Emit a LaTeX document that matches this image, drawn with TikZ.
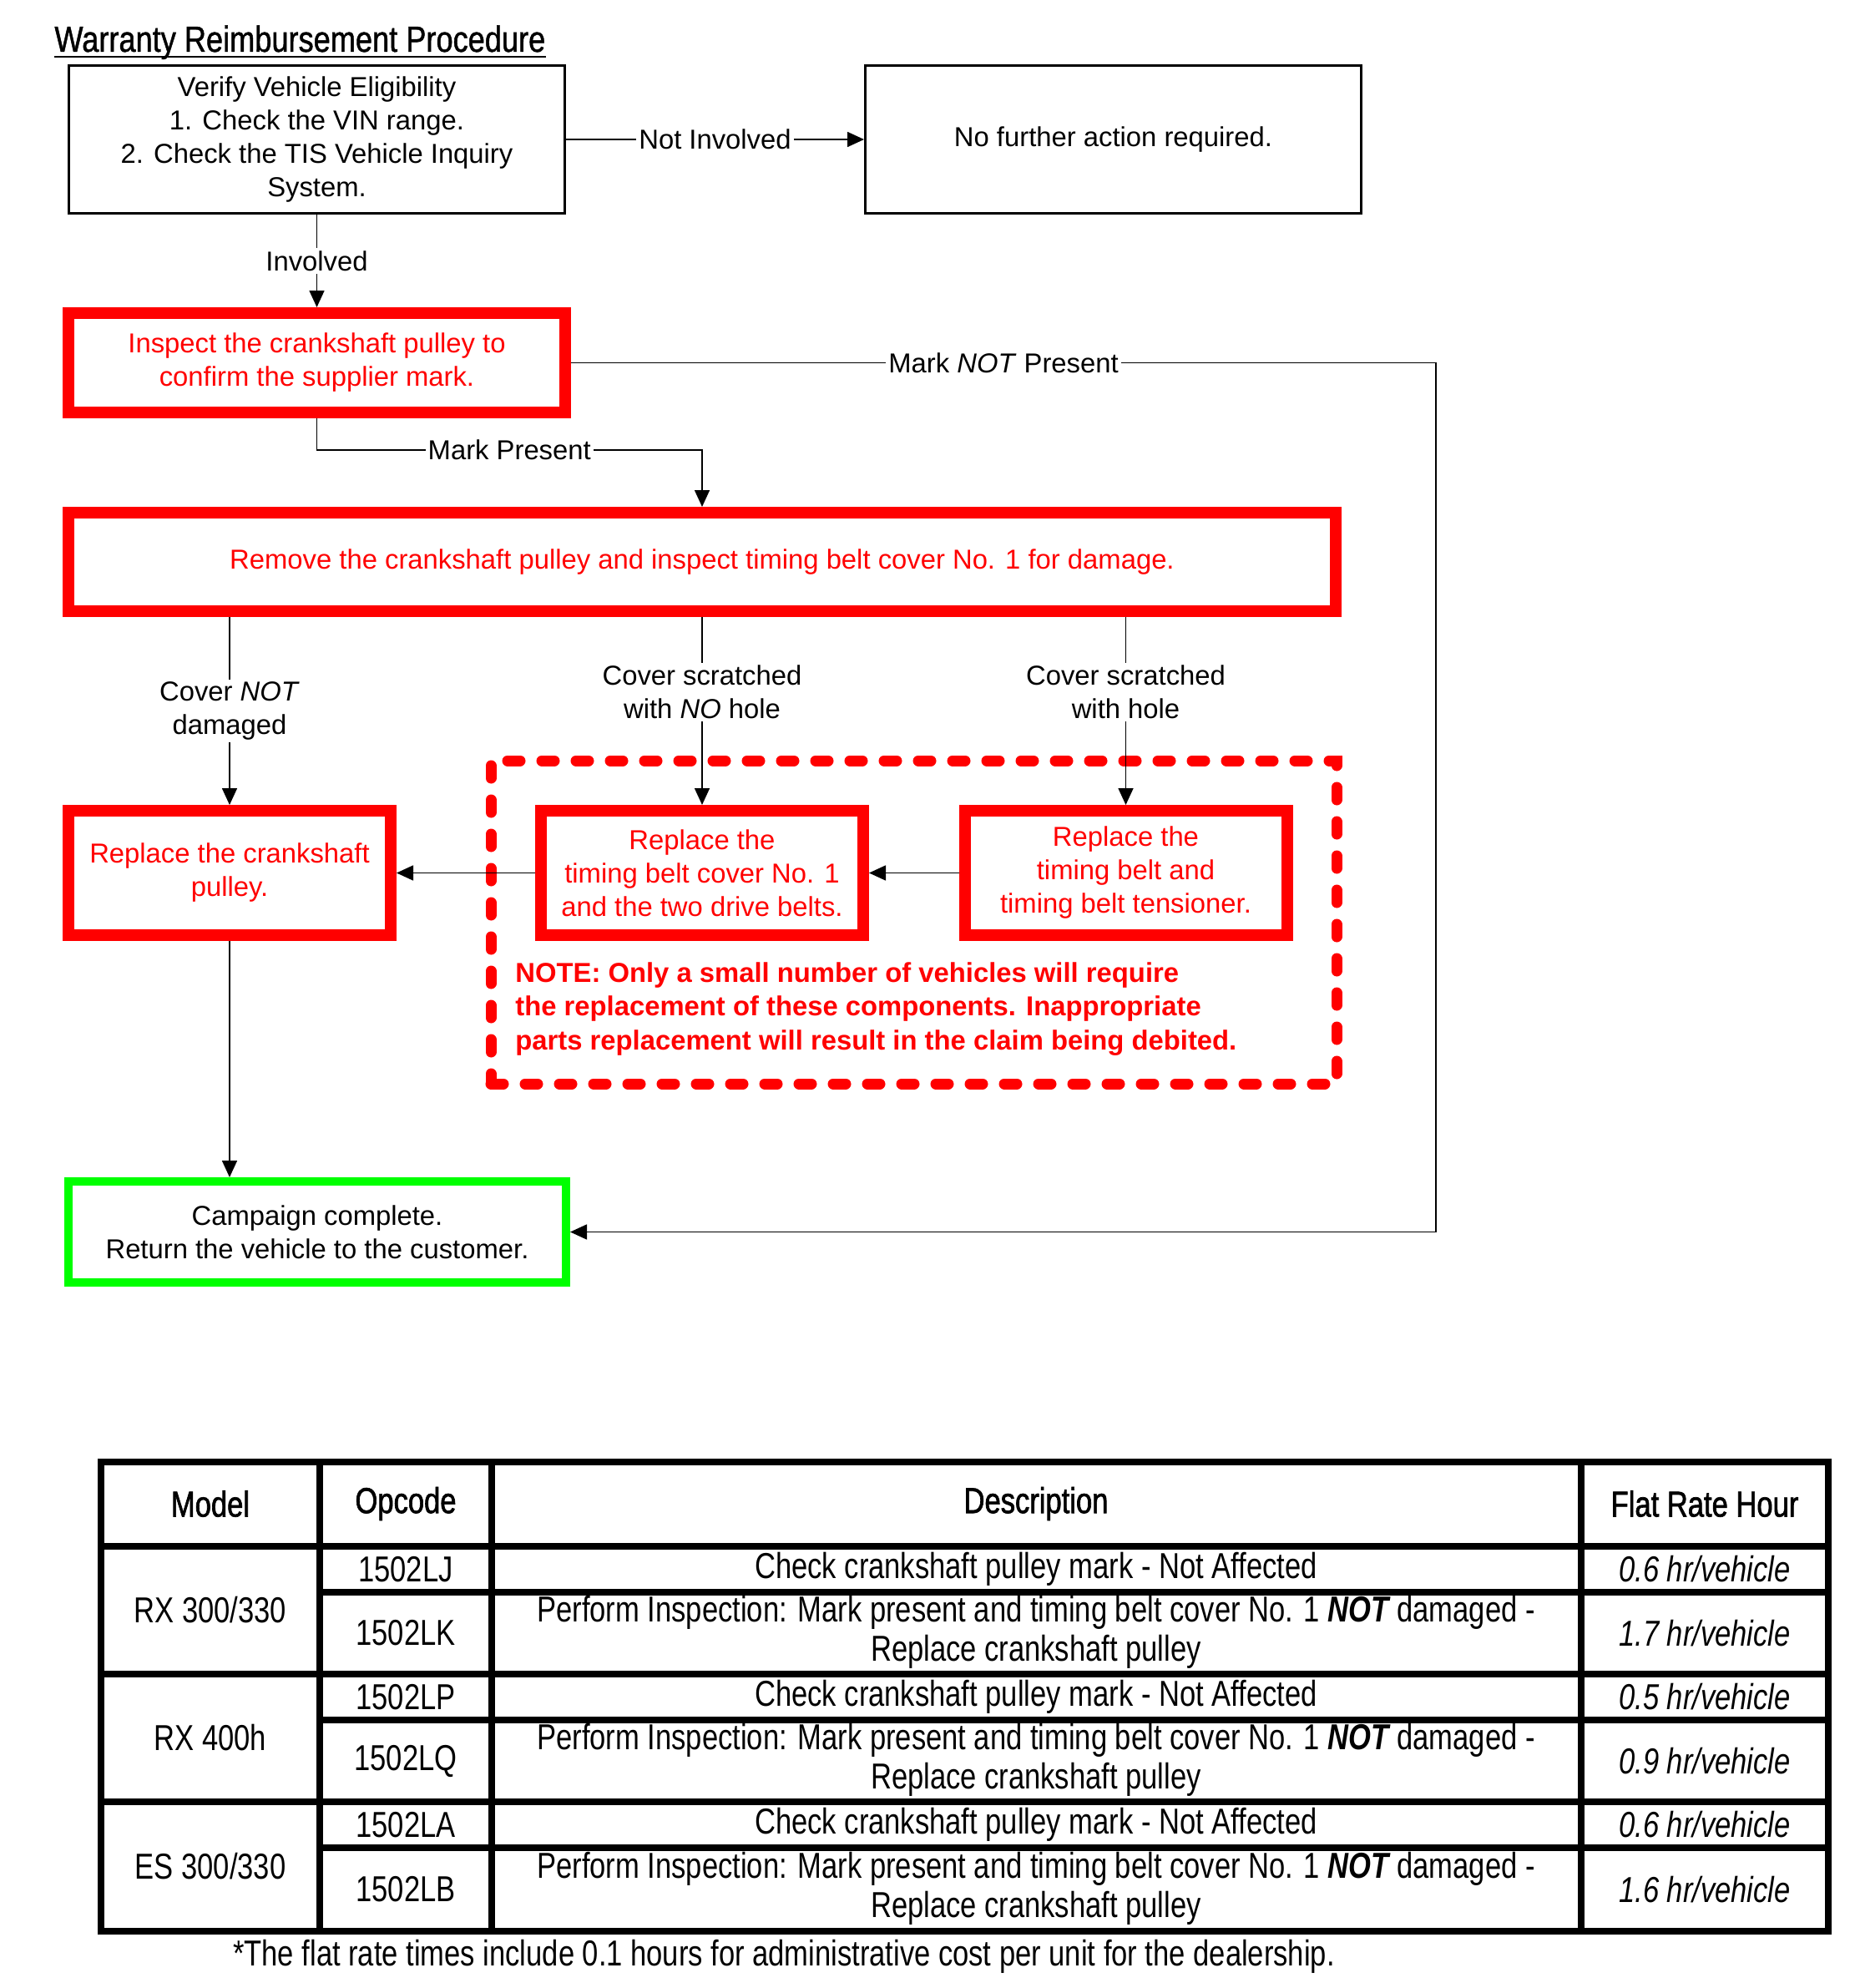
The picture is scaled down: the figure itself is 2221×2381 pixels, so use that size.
\documentclass[tikz,border=0pt]{standalone}
\usepackage{fontspec}
\setmainfont{Liberation Sans}
\newfontfamily\tabfont[FakeStretch=0.8]{Liberation Sans}
\newfontfamily\tabheadfont[FakeStretch=0.8,FakeBold=1.5]{Liberation Sans}
\newfontfamily\ttlfont[FakeStretch=0.83,FakeBold=1]{Liberation Sans}
\usetikzlibrary{arrows.meta,calc}
\definecolor{pred}{RGB}{255,0,0}
\definecolor{pgreen}{RGB}{0,255,0}
\tikzset{
  flow/.style={font=\fontsize{16.4}{20}\selectfont, align=center, inner sep=0pt},
  blackbox/.style={flow, draw=black, line width=1.5pt, minimum width=297pt, minimum height=88.5pt},
  redbox/.style={flow, draw=pred, text=pred, line width=7pt},
  smallbox/.style={minimum width=193pt, minimum height=74.5pt},
  greenbox/.style={flow, draw=pgreen, line width=5pt, minimum width=298pt, minimum height=60.5pt},
  conn/.style={line width=0.8pt, -{Triangle[length=10pt,width=9pt]}},
  lbl/.style={flow, fill=white, inner sep=1.5pt},
  dashbox/.style={draw=pred, line width=6.5pt, dash pattern=on 7.5pt off 13pt, line cap=round, inner sep=0pt},
  tab/.style={font=\tabfont\fontsize{21.6}{23.5}\selectfont, align=center, inner sep=0pt},
  tabhead/.style={font=\tabheadfont\fontsize{21.6}{23.5}\selectfont, align=center, inner sep=0pt},
  tabrate/.style={font=\tabfont\itshape\fontsize{21.6}{23.5}\selectfont, align=center, inner sep=0pt},
  tabline/.style={line width=4pt}
}
\begin{document}
\begin{tikzpicture}[x=0.5pt,y=-0.5pt]
\useasboundingbox (0,0) rectangle (2221,2381);

% title
\node[font=\ttlfont\fontsize{21.8}{24}\selectfont, anchor=base west, inner sep=0pt] (title) at (65,62) {Warranty Reimbursement Procedure};
\draw[line width=1.1pt] ([yshift=-3pt]title.base west) -- ([yshift=-3pt]title.base east);

% boxes
\node[blackbox] (verify) at (379.5,167) {Verify Vehicle Eligibility\\1. Check the VIN range.\\2. Check the TIS Vehicle Inquiry\\System.};
\node[blackbox] (nofurther) at (1333.5,167) {No further action required.};
\node[redbox, minimum width=297.5pt, minimum height=59.5pt] (inspect) at (379.5,434.5) {Inspect the crankshaft pulley to\\confirm the supplier mark.};
\node[redbox, minimum width=759pt, minimum height=59pt] (remove) at (841,673) {Remove the crankshaft pulley and inspect timing belt cover No. 1 for damage.};

\node[dashbox, minimum width=506.5pt, minimum height=193.5pt] (dash) at (1094.5,1104.5) {};

\node[redbox, smallbox] (crank) at (275,1045.5) {Replace the crankshaft\\pulley.};
\node[redbox, smallbox] (tbc) at (841,1045.5) {Replace the\\timing belt cover No. 1\\and the two drive belts.};
\node[redbox, smallbox] (tbt) at (1348.5,1045.5) {Replace the\\timing belt and\\timing belt tensioner.};
\node[flow, font=\fontsize{16.4}{20.25}\selectfont\bfseries, text=pred, align=left, anchor=west] (note) at (617,1208.5) {NOTE: Only a small number of vehicles will require\\the replacement of these components. Inappropriate\\parts replacement will result in the claim being debited.};
\node[greenbox] (done) at (380,1475.5) {Campaign complete.\\Return the vehicle to the customer.};

% connectors
\coordinate (c1) at (1720,434.5);
\coordinate (c2) at (1720,1475.5);
\coordinate (c3) at (379.5,539);
\coordinate (c4) at (841,539);

\draw[conn] (verify.east) -- node[lbl]{Not Involved} (nofurther.west);
\draw[conn] (verify.south) -- node[lbl]{Involved} (inspect.north);
\draw[conn] (inspect.east) -- node[lbl]{Mark \textit{NOT} Present} (c1) -- (c2) -- (done.east);
\draw[conn] (inspect.south) -- (c3) -- node[lbl]{Mark Present} (c4) -- (remove.north);
\draw[conn] (remove.south -| crank.north) -- node[lbl]{Cover \textit{NOT}\\damaged} (crank.north);
\draw[conn] (remove.south -| tbc.north) -- node[lbl, pos=0.4]{Cover scratched\\with \textit{NO} hole} (tbc.north);
\draw[conn] (remove.south -| tbt.north) -- node[lbl, pos=0.4]{Cover scratched\\with hole} (tbt.north);
\draw[conn] (tbt.west) -- (tbc.east);
\draw[conn] (tbc.west) -- (crank.east);
\draw[conn] (crank.south) -- (crank.south |- done.north);

% table
\draw[tabline] (121,1751) rectangle (2190,2313);
\foreach \x in {383,589,1894} \draw[tabline] (\x,1751) -- (\x,2313);
\foreach \y in {1852,2005,2158} \draw[tabline] (121,\y) -- (2190,\y);
\foreach \y in {1907,2060,2213} \draw[tabline] (383,\y) -- (2190,\y);

\node[tabhead] (hmodel) at (252,1801) {Model};
\node[tabhead] (hop) at (486,1801) {Opcode};
\node[tabhead] (hdesc) at (1241,1801) {Description};
\node[tabhead] (hrate) at (2042,1801) {Flat Rate Hour};

\node[tab] (m1) at (252,1928.5) {RX 300/330};
\node[tab] (m2) at (252,2081.5) {RX 400h};
\node[tab] (m3) at (252,2235.5) {ES 300/330};

\node[tab] (o1) at (486,1879.5) {1502LJ};
\node[tab] (o2) at (486,1956) {1502LK};
\node[tab] (o3) at (486,2032.5) {1502LP};
\node[tab] (o4) at (486,2109) {1502LQ};
\node[tab] (o5) at (486,2185.5) {1502LA};
\node[tab] (o6) at (486,2263) {1502LB};

\node[tab] (d1) at (1241,1879.5) {Check crankshaft pulley mark - Not Affected};
\node[tab] (d2) at (1241,1955) {Perform Inspection: Mark present and timing belt cover No. 1 \textbf{\textit{NOT}}\,damaged -\\Replace crankshaft pulley};
\node[tab] (d3) at (1241,2032.5) {Check crankshaft pulley mark - Not Affected};
\node[tab] (d4) at (1241,2108) {Perform Inspection: Mark present and timing belt cover No. 1 \textbf{\textit{NOT}}\,damaged -\\Replace crankshaft pulley};
\node[tab] (d5) at (1241,2185.5) {Check crankshaft pulley mark - Not Affected};
\node[tab] (d6) at (1241,2262) {Perform Inspection: Mark present and timing belt cover No. 1 \textbf{\textit{NOT}}\,damaged -\\Replace crankshaft pulley};

\node[tabrate] (r1) at (2042,1879.5) {0.6 hr/vehicle};
\node[tabrate] (r2) at (2042,1956) {1.7 hr/vehicle};
\node[tabrate] (r3) at (2042,2032.5) {0.5 hr/vehicle};
\node[tabrate] (r4) at (2042,2109) {0.9 hr/vehicle};
\node[tabrate] (r5) at (2042,2185.5) {0.6 hr/vehicle};
\node[tabrate] (r6) at (2042,2263) {1.6 hr/vehicle};

\node[tab] (foot) at (939,2343) {*The flat rate times include 0.1 hours for administrative cost per unit for the dealership.};
\end{tikzpicture}
\end{document}
